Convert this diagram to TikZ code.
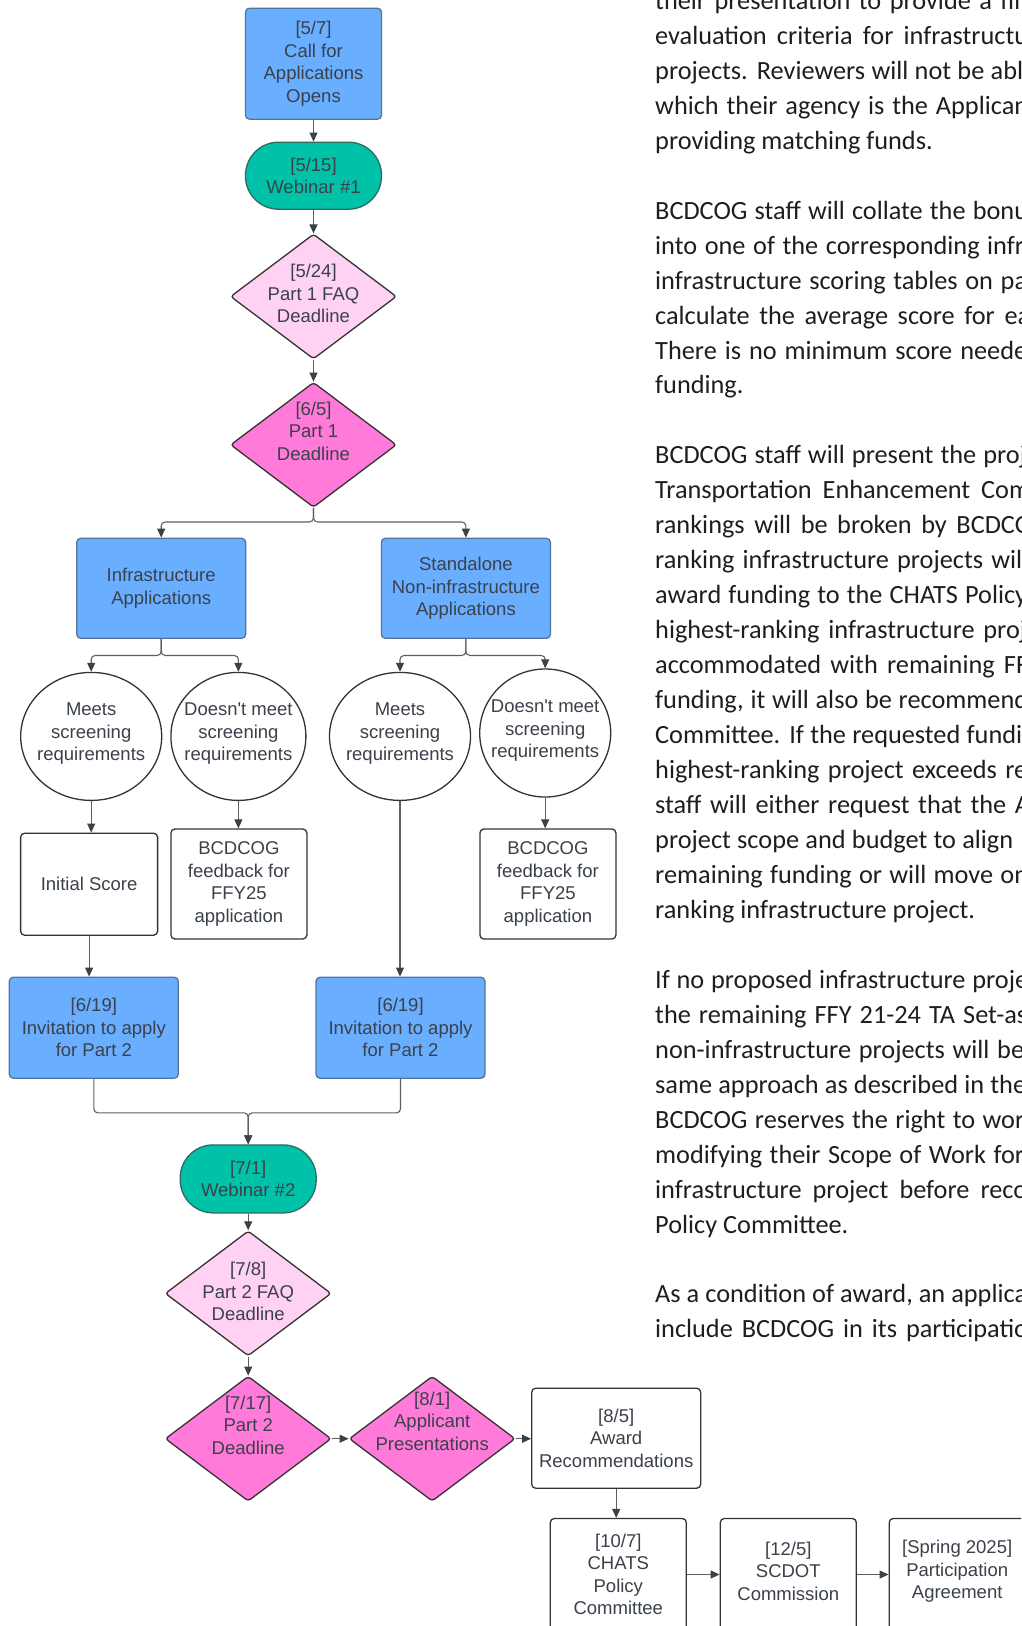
\documentclass[tikz,border=0pt]{standalone}
\usepackage{fontspec}
\newfontfamily\dfont{Liberation Sans}
\newfontfamily\bfont{Carlito}
\usetikzlibrary{arrows.meta,shapes.geometric}
\definecolor{txt}{HTML}{3A414A}
\definecolor{blueF}{HTML}{6AAEFF}
\definecolor{blueD}{HTML}{56739A}
\definecolor{tealF}{HTML}{00C2A8}
\definecolor{tealD}{HTML}{2E6B62}
\definecolor{pinkL}{HTML}{FFD2F4}
\definecolor{pinkD}{HTML}{FF7AD9}
\definecolor{edge}{HTML}{333333}
\definecolor{conn}{HTML}{5A5F66}
\definecolor{tipc}{HTML}{3A414A}
\definecolor{bodyc}{HTML}{1E1E1E}
\tikzset{
  lbl/.style={font=\dfont\fontsize{18.5}{22.5}\selectfont, text=txt, align=center, inner sep=0pt},
  base/.style={lbl, line width=1.3pt, draw=edge},
  bluebox/.style={base, draw=blueD, fill=blueF, rounded corners=4pt},
  whitebox/.style={base, fill=white, rounded corners=4pt},
  pill/.style={base, draw=tealD, fill=tealF, rounded corners=33pt},
  dlight/.style={diamond, line width=1.3pt, draw=edge, fill=pinkL, rounded corners=3pt, inner sep=0pt, minimum width=166pt, minimum height=125pt},
  dpink/.style={diamond, line width=1.3pt, draw=edge, fill=pinkD, rounded corners=3pt, inner sep=0pt, minimum width=166pt, minimum height=125pt},
  circ/.style={ellipse, line width=1.3pt, draw=edge, fill=white, inner sep=0pt},
  arr/.style={draw=conn, line width=1.1pt, -{Triangle[length=9pt,width=8pt,color=tipc]}},
  btxt/.style={font=\bfont\fontsize{26.3}{32}\selectfont, text=bodyc, anchor=base west, inner sep=0pt},
}
\begin{document}
\begin{tikzpicture}[x=1pt,y=-1pt]
\path[use as bounding box] (0,0) rectangle (1021,1626);
\clip (0,0) rectangle (1021,1626);

% ---------- right-hand text column ----------
\node[btxt] (t0)  at (655,9.3)    {\makebox[373pt][s]{their presentation to provide a fin}};
\node[btxt] (t1)  at (655,44.3)   {\makebox[373pt][s]{evaluation criteria for infrastructu}};
\node[btxt] (t2)  at (655,79.3)   {\makebox[368pt][s]{projects. Reviewers will not be abl}};
\node[btxt] (t3)  at (655,114.2)  {\makebox[373pt][s]{which their agency is the Applican}};
\node[btxt] (t4)  at (655,149.2)  {providing matching funds.};
\node[btxt] (t6)  at (655,219.1)  {\makebox[373pt][s]{BCDCOG staff will collate the bonu}};
\node[btxt] (t7)  at (655,254.1)  {\makebox[369pt][s]{into one of the corresponding infr}};
\node[btxt] (t8)  at (655,289.0)  {\makebox[372pt][s]{infrastructure scoring tables on pa}};
\node[btxt] (t9)  at (655,324.0)  {\makebox[375pt][s]{calculate the average score for ea}};
\node[btxt] (t10) at (655,359.0)  {\makebox[372pt][s]{There is no minimum score neede}};
\node[btxt] (t11) at (655,393.9)  {funding.};
\node[btxt] (t13) at (655,463.8)  {\makebox[371pt][s]{BCDCOG staff will present the proj}};
\node[btxt] (t14) at (655,498.8)  {\makebox[375pt][s]{Transportation Enhancement Com}};
\node[btxt] (t15) at (655,533.8)  {\makebox[377pt][s]{rankings will be broken by BCDCO}};
\node[btxt] (t16) at (655,568.7)  {\makebox[367pt][s]{ranking infrastructure projects wil}};
\node[btxt] (t17) at (655,603.7)  {\makebox[372pt][s]{award funding to the CHATS Policy}};
\node[btxt] (t18) at (655,638.6)  {\makebox[371pt][s]{highest-ranking infrastructure proj}};
\node[btxt] (t19) at (655,673.6)  {\makebox[373pt][s]{accommodated with remaining FF}};
\node[btxt] (t20) at (655,708.6)  {\makebox[373pt][s]{funding, it will also be recommend}};
\node[btxt] (t21) at (655,743.5)  {\makebox[367pt][s]{Committee. If the requested fundi}};
\node[btxt] (t22) at (655,778.5)  {\makebox[372pt][s]{highest-ranking project exceeds re}};
\node[btxt] (t23) at (655,813.4)  {\makebox[375pt][s]{staff will either request that the A}};
\node[btxt] (t24) at (655,848.4)  {\makebox[358pt][s]{project scope and budget to align}};
\node[btxt] (t25) at (655,883.4)  {\makebox[373pt][s]{remaining funding or will move on}};
\node[btxt] (t26) at (655,918.3)  {ranking infrastructure project.};
\node[btxt] (t28) at (655,988.2)  {\makebox[373pt][s]{If no proposed infrastructure proje}};
\node[btxt] (t29) at (655,1023.2) {\makebox[372pt][s]{the remaining FFY 21-24 TA Set-as}};
\node[btxt] (t30) at (655,1058.2) {\makebox[369pt][s]{non-infrastructure projects will be}};
\node[btxt] (t31) at (655,1093.1) {\makebox[371pt][s]{same approach as described in the}};
\node[btxt] (t32) at (655,1128.1) {\makebox[369pt][s]{BCDCOG reserves the right to wor}};
\node[btxt] (t33) at (655,1163.0) {\makebox[369pt][s]{modifying their Scope of Work for}};
\node[btxt] (t34) at (655,1198.0) {\makebox[372pt][s]{infrastructure project before reco}};
\node[btxt] (t35) at (655,1233.0) {Policy Committee.};
\node[btxt] (t37) at (655,1302.9) {\makebox[372pt][s]{As a condition of award, an applica}};
\node[btxt] (t38) at (655,1337.8) {\makebox[373pt][s]{include BCDCOG in its participatio}};

% ---------- shapes ----------
\node[bluebox, minimum width=136pt, minimum height=111pt] (call) at (313.5,63.7) {[5/7]\\Call for\\Applications\\Opens};
\node[pill, minimum width=136pt, minimum height=67pt] (web1) at (313.5,175.7) {[5/15]\\Webinar \#1};
\node[dlight] (d1) at (313.5,296.5) {};
\node[lbl] (d1t) at (313.5,293.5) {[5/24]\\Part 1 FAQ\\Deadline};
\node[dpink] (d2) at (313.5,444.8) {};
\node[lbl] (d2t) at (313.5,431) {[6/5]\\Part 1\\Deadline};

\node[bluebox, minimum width=169pt, minimum height=100pt] (infra) at (161.2,588.3) {Infrastructure\\Applications};
\node[bluebox, minimum width=169pt, minimum height=100pt] (stand) at (465.9,588.3) {Standalone\\Non-infrastructure\\Applications};

\node[circ, minimum width=141pt, minimum height=128pt] (m1) at (91.2,736.4) {};
\node[lbl] (m1t) at (91.2,733.8) {Meets\\screening\\requirements};
\node[circ, minimum width=135pt, minimum height=128pt] (n1) at (238.4,736.4) {};
\node[lbl] (n1t) at (238.4,733.8) {Doesn't meet\\screening\\requirements};
\node[circ, minimum width=141pt, minimum height=128pt] (m2) at (400,736.4) {};
\node[lbl] (m2t) at (400,733.8) {Meets\\screening\\requirements};
\node[circ, minimum width=131pt, minimum height=128pt] (n2) at (545.2,733) {};
\node[lbl] (n2t) at (545.2,730.7) {Doesn't meet\\screening\\requirements};

\node[whitebox, minimum width=137pt, minimum height=102pt] (init) at (89.1,884.2) {Initial Score};
\node[whitebox, minimum width=136pt, minimum height=110pt] (fb1) at (238.9,884) {BCDCOG\\feedback for\\FFY25\\application};
\node[whitebox, minimum width=136pt, minimum height=110pt] (fb2) at (547.9,884) {BCDCOG\\feedback for\\FFY25\\application};

\node[bluebox, minimum width=169pt, minimum height=101pt] (inv1) at (93.8,1027.7) {[6/19]\\Invitation to apply\\for Part 2};
\node[bluebox, minimum width=169pt, minimum height=101pt] (inv2) at (400.5,1027.7) {[6/19]\\Invitation to apply\\for Part 2};

\node[pill, minimum width=136pt, minimum height=68pt] (web2) at (248.2,1178.9) {[7/1]\\Webinar \#2};
\node[dlight] (d3) at (248.2,1293.4) {};
\node[lbl] (d3t) at (248.2,1291.5) {[7/8]\\Part 2 FAQ\\Deadline};
\node[dpink] (d4) at (248.2,1438.7) {};
\node[lbl] (d4t) at (248.2,1425) {[7/17]\\Part 2\\Deadline};
\node[dpink] (d5) at (432.2,1438.7) {};
\node[lbl] (d5t) at (432.2,1421) {[8/1]\\Applicant\\Presentations};

\node[whitebox, minimum width=169pt, minimum height=100pt] (award) at (616.2,1438.2) {[8/5]\\Award\\Recommendations};
\node[whitebox, minimum width=136pt, minimum height=112pt] (chats) at (618.3,1574.5) {[10/7]\\CHATS\\Policy\\Committee};
\node[whitebox, minimum width=136pt, minimum height=112pt] (scdot) at (788.3,1574.5) {};
\node[lbl] (scdott) at (788.3,1571.3) {[12/5]\\SCDOT\\Commission};
\node[whitebox, minimum width=136pt, minimum height=112pt] (spring) at (957.2,1574.5) {};
\node[lbl] (springt) at (957.2,1571.3) {[Spring 2025]\\Participation\\Agreement};

% ---------- connectors ----------
\draw[arr] (call) -- (web1);
\draw[arr] (web1) -- (d1);
\draw[arr] (d1) -- (d2);
\draw[arr, rounded corners=4pt] (d2.south) -- ++(0,14) -| (infra.north);
\draw[arr, rounded corners=4pt] (d2.south) -- ++(0,14) -| (stand.north);
\draw[arr, rounded corners=4pt] (infra.south) -- ++(0,16.5) -| (m1.north);
\draw[arr, rounded corners=4pt] (infra.south) -- ++(0,16.5) -| (n1.north);
\draw[arr, rounded corners=4pt] (stand.south) -- ++(0,16.5) -| (m2.north);
\draw[arr, rounded corners=4pt] (stand.south) -- ++(0,16.5) -| (n2.north);
\draw[arr] (m1.south) -- (m1.south |- init.north);
\draw[arr] (n1.south) -- (n1.south |- fb1.north);
\draw[arr] (n2.south) -- (n2.south |- fb2.north);
\draw[arr] (init.south) -- (init.south |- inv1.north);
\draw[arr] (m2.south) -- (m2.south |- inv2.north);
\draw[arr, rounded corners=4pt] (inv1.south) -- ++(0,34) -| (web2.north);
\draw[arr, rounded corners=4pt] (inv2.south) -- ++(0,34) -| (web2.north);
\draw[arr] (web2) -- (d3);
\draw[arr] (d3) -- (d4);
\draw[arr] (d4) -- (d5);
\draw[arr] (d5.east) -- (d5.east -| award.west);
\draw[arr] (award.south) -- (award.south |- chats.north);
\draw[arr] (chats.east |- scdot.center) -- (scdot.west);
\draw[arr] (scdot.east) -- (spring.west);
\end{tikzpicture}
\end{document}
